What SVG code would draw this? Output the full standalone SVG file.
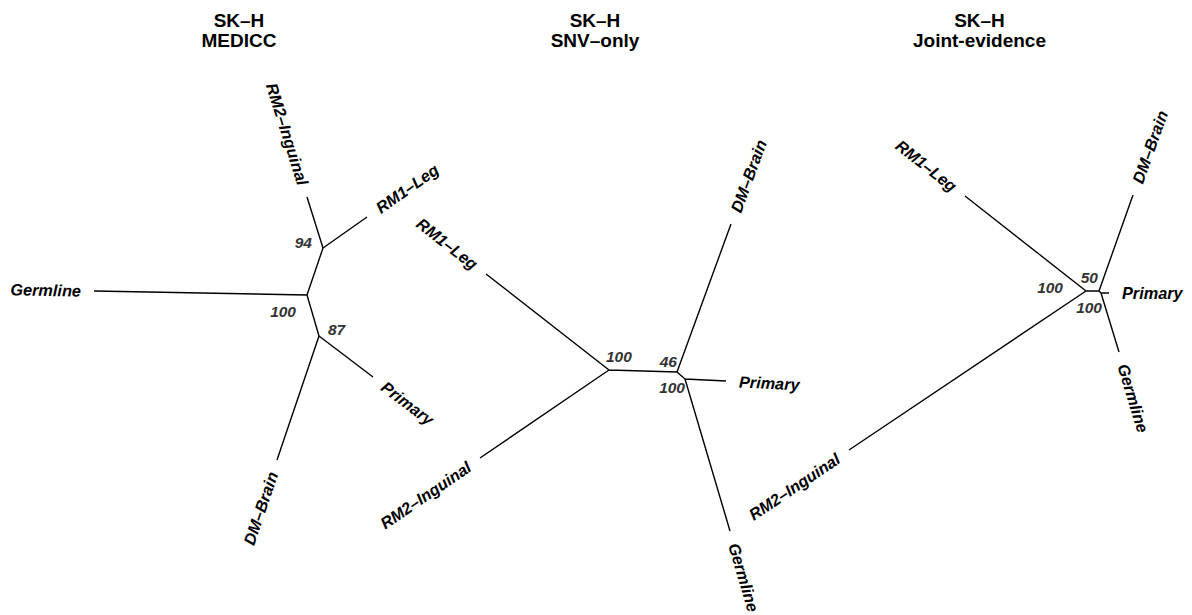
<svg xmlns="http://www.w3.org/2000/svg" width="1192" height="615" viewBox="0 0 1192 615">
<style>
.title{font-family:"Liberation Sans",Arial,sans-serif;font-weight:bold;font-size:19px;fill:#000;text-anchor:middle}
.tip{font-family:"Liberation Sans",Arial,sans-serif;font-weight:bold;font-style:italic;font-size:16.3px;fill:#000}
.bs{font-family:"Liberation Sans",Arial,sans-serif;font-weight:bold;font-style:italic;font-size:15.5px;fill:#333}
.e{stroke:#000;stroke-width:1.4;fill:none;stroke-linecap:butt}
.s{text-anchor:start}
.n{text-anchor:end}
</style>
<rect width="1192" height="615" fill="#fff"/>
<g id="titles">
<text class="title" x="239" y="27">SK–H</text>
<text class="title" x="239" y="47">MEDICC</text>
<text class="title" x="595" y="27">SK–H</text>
<text class="title" x="595" y="47">SNV–only</text>
<text class="title" x="979.5" y="27">SK–H</text>
<text class="title" x="979.5" y="47">Joint-evidence</text>
</g>
<g id="connectors">
<path class="e" d="M94,291 L307,295 M307,295 L323,248 M323,248 L307,197 M323,248 L367,217 M307,295 L319,336 M319,336 L373,377 M319,336 L277,460"/>
<path class="e" d="M486,274 L609,370 M480,458 L609,370 M609,370 L677,372 M677,372 L731,224 M677,372 L685,379 M685,379 L726,381 M685,379 L730,531"/>
<path class="e" d="M965,196 L1086,291 M849,450 L1086,291 M1086,291 L1099,291 M1099,291 L1133,195 M1099,291 L1101,293 M1101,293 L1109,293 M1101,293 L1119,352"/>
</g>
<g id="tree1">
<g id="t1-germline"><text class="tip n" transform="translate(81,290.8) rotate(1.08)" dy="0.36em">Germline</text></g>
<g id="t1-rm2"><text class="tip n" transform="translate(303.1,184.6) rotate(72.6)" dy="0.36em">RM2–Inguinal</text></g>
<g id="t1-rm1"><text class="tip s" transform="translate(377.6,209.5) rotate(-35.2)" dy="0.36em">RM1–Leg</text></g>
<g id="t1-primary"><text class="tip s" transform="translate(383.4,384.9) rotate(37.2)" dy="0.36em">Primary</text></g>
<g id="t1-dmbrain"><text class="tip n" transform="translate(272.8,472.3) rotate(-71.3)" dy="0.36em">DM–Brain</text></g>
<g id="t1-bs"><text class="bs n" x="312" y="248">94</text><text class="bs n" x="296" y="317">100</text><text class="bs s" x="328" y="335">87</text></g>
</g>
<g id="tree2">
<g id="t2-rm1"><text class="tip n" transform="translate(475.8,266) rotate(37.97)" dy="0.36em">RM1–Leg</text></g>
<g id="t2-rm2"><text class="tip n" transform="translate(469.3,465.3) rotate(-34.3)" dy="0.36em">RM2–Inguinal</text></g>
<g id="t2-dmbrain"><text class="tip s" transform="translate(735.5,211.8) rotate(-69.96)" dy="0.36em">DM–Brain</text></g>
<g id="t2-primary"><text class="tip s" transform="translate(739,381.6) rotate(2.8)" dy="0.36em">Primary</text></g>
<g id="t2-germline"><text class="tip s" transform="translate(733.7,543.5) rotate(73.5)" dy="0.36em">Germline</text></g>
<g id="t2-bs"><text class="bs s" x="606" y="362">100</text><text class="bs n" x="677" y="367">46</text><text class="bs n" x="685" y="393">100</text></g>
</g>
<g id="tree3">
<g id="t3-rm1"><text class="tip n" transform="translate(954.8,188) rotate(38.1)" dy="0.36em">RM1–Leg</text></g>
<g id="t3-rm2"><text class="tip n" transform="translate(838.2,457.2) rotate(-33.9)" dy="0.36em">RM2–Inguinal</text></g>
<g id="t3-dmbrain"><text class="tip s" transform="translate(1137.3,182.7) rotate(-70.5)" dy="0.36em">DM–Brain</text></g>
<g id="t3-primary"><text class="tip s" transform="translate(1122,293) rotate(0)" dy="0.36em">Primary</text></g>
<g id="t3-germline"><text class="tip s" transform="translate(1122.8,364.4) rotate(73)" dy="0.36em">Germline</text></g>
<g id="t3-bs"><text class="bs n" x="1098" y="283">50</text><text class="bs n" x="1063" y="293">100</text><text class="bs n" x="1102" y="313">100</text></g>
</g>
</svg>
